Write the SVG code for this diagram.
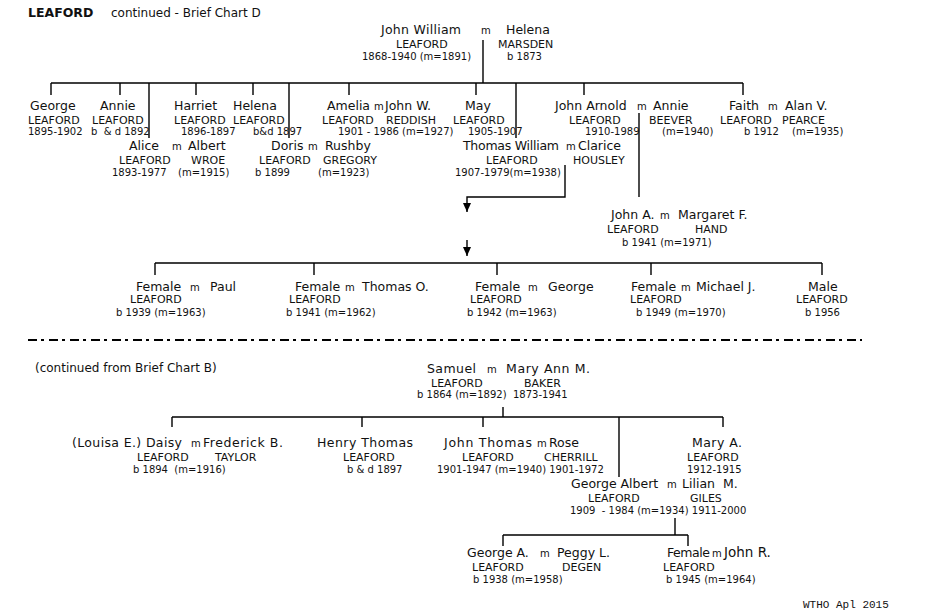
<svg xmlns="http://www.w3.org/2000/svg" width="929" height="611" viewBox="0 0 929 611">
<style>
text{font-family:"DejaVu Sans","Verdana",sans-serif;fill:#111}
.n{font-size:12.5px}
.s{font-size:11px}
.d{font-size:10px}
.m{font-size:10px}
.t{font-size:12.5px;font-weight:bold}
.w{font-family:"Liberation Mono","Courier New",monospace;font-size:11px}
.ln{stroke:#000;stroke-width:1.4;fill:none}
</style>
<defs>
<marker id="ad" viewBox="0 0 8 9" refX="4" refY="9" markerWidth="8" markerHeight="9" markerUnits="userSpaceOnUse" orient="0">
<path d="M0,0 L8,0 L4,9 Z" fill="#000"/>
</marker>
</defs>
<rect width="929" height="611" fill="#fff"/>
<g id="title">
<text class="t" x="28" y="17">LEAFORD</text>
<text class="n" x="111" y="17" style="font-size:12px">continued - Brief Chart D</text>
</g>
<g id="connectors">
<path class="ln" d="M483,40 V83 M51,83 H743 M51,83 V95 M120,83 V95 M149,83 V138 M196,83 V95 M253,83 V95 M289,83 V138 M349,83 V95 M476,83 V95 M516,83 V138 M584,83 V95 M743,83 V95"/>
<path class="ln" d="M639,113 V197"/>
<path class="ln" d="M565,165 V197 H467 V212" marker-end="url(#ad)"/>
<path class="ln" d="M467,240 V256" marker-end="url(#ad)"/>
<path class="ln" d="M155,263 H822 M155,263 V275 M314,263 V275 M497,263 V275 M651,263 V275 M822,263 V275"/>
<path d="M28,340 H862" stroke="#000" stroke-width="2" stroke-dasharray="9 4 3 5" fill="none"/>
<path class="ln" d="M503,407 V417 M172,417 H723 M172,417 V427 M362,417 V427 M483,417 V427 M619,417 V477 M723,417 V427"/>
<path class="ln" d="M675,518 V535 M503,535 H688 M503,535 V546 M688,535 V546"/>
</g>
<g id="john-william-helena">
<text class="n" x="381" y="34" textLength="80">John William</text><text class="m" x="481" y="34">m</text><text class="n" x="506" y="34">Helena</text>
<text class="s" x="396" y="48">LEAFORD</text><text class="s" x="498" y="48">MARSDEN</text>
<text class="d" x="362" y="60">1868-1940 (m=1891)</text><text class="d" x="507" y="60">b 1873</text>
</g>
<g id="george">
<text class="n" x="30" y="110">George</text><text class="s" x="28" y="124">LEAFORD</text><text class="d" x="28" y="135">1895-1902</text>
</g>
<g id="annie">
<text class="n" x="100" y="110">Annie</text><text class="s" x="92" y="124">LEAFORD</text><text class="d" x="91" y="135">b&#160; &amp; d 1892</text>
</g>
<g id="alice">
<text class="n" x="129" y="150">Alice</text><text class="m" x="172" y="150">m</text><text class="n" x="188" y="150">Albert</text>
<text class="s" x="119" y="164">LEAFORD</text><text class="s" x="191" y="164">WROE</text>
<text class="d" x="112" y="176">1893-1977</text><text class="d" x="178" y="176">(m=1915)</text>
</g>
<g id="harriet">
<text class="n" x="174" y="110">Harriet</text><text class="s" x="174" y="124">LEAFORD</text><text class="d" x="181" y="135">1896-1897</text>
</g>
<g id="helena">
<text class="n" x="233" y="110">Helena</text><text class="s" x="233" y="124">LEAFORD</text><text class="d" x="253" y="135">b&amp;d 1897</text>
</g>
<g id="doris">
<text class="n" x="271" y="150">Doris</text><text class="m" x="308" y="150">m</text><text class="n" x="325" y="150">Rushby</text>
<text class="s" x="259" y="164">LEAFORD</text><text class="s" x="323" y="164">GREGORY</text>
<text class="d" x="255" y="176">b 1899</text><text class="d" x="318" y="176">(m=1923)</text>
</g>
<g id="amelia">
<text class="n" x="327" y="110">Amelia</text><text class="m" x="374" y="110">m</text><text class="n" x="385" y="110">John W.</text>
<text class="s" x="322" y="124">LEAFORD</text><text class="s" x="386" y="124">REDDISH</text>
<text class="d" x="338" y="135">1901 - 1986 (m=1927)</text>
</g>
<g id="may">
<text class="n" x="465" y="110">May</text><text class="s" x="453" y="124">LEAFORD</text><text class="d" x="468" y="135">1905-1907</text>
</g>
<g id="thomas-william">
<text class="n" x="463" y="150" textLength="96">Thomas William</text><text class="m" x="566" y="150">m</text><text class="n" x="578" y="150">Clarice</text>
<text class="s" x="486" y="164">LEAFORD</text><text class="s" x="573" y="164">HOUSLEY</text>
<text class="d" x="455" y="176">1907-1979(m=1938)</text>
</g>
<g id="john-arnold">
<text class="n" x="555" y="110">John Arnold</text><text class="m" x="637" y="110">m</text><text class="n" x="653" y="110">Annie</text>
<text class="s" x="569" y="124">LEAFORD</text><text class="s" x="649" y="124">BEEVER</text>
<text class="d" x="585" y="135">1910-1989</text><text class="d" x="662" y="135">(m=1940)</text>
</g>
<g id="faith">
<text class="n" x="729" y="110">Faith</text><text class="m" x="768" y="110">m</text><text class="n" x="785" y="110">Alan V.</text>
<text class="s" x="720" y="124">LEAFORD</text><text class="s" x="782" y="124">PEARCE</text>
<text class="d" x="744" y="135">b 1912</text><text class="d" x="792" y="135">(m=1935)</text>
</g>
<g id="john-a">
<text class="n" x="611" y="219">John A.</text><text class="m" x="660" y="219">m</text><text class="n" x="678" y="219">Margaret F.</text>
<text class="s" x="607" y="233">LEAFORD</text><text class="s" x="695" y="233">HAND</text>
<text class="d" x="622" y="246">b 1941 (m=1971)</text>
</g>
<g id="female-1939">
<text class="n" x="136" y="291">Female</text><text class="m" x="190" y="291">m</text><text class="n" x="210" y="291">Paul</text>
<text class="s" x="130" y="303">LEAFORD</text><text class="d" x="116" y="316">b 1939 (m=1963)</text>
</g>
<g id="female-1941">
<text class="n" x="295" y="291">Female</text><text class="m" x="345" y="291">m</text><text class="n" x="362" y="291">Thomas O.</text>
<text class="s" x="289" y="303">LEAFORD</text><text class="d" x="286" y="316">b 1941 (m=1962)</text>
</g>
<g id="female-1942">
<text class="n" x="475" y="291">Female</text><text class="m" x="528" y="291">m</text><text class="n" x="548" y="291">George</text>
<text class="s" x="470" y="303">LEAFORD</text><text class="d" x="467" y="316">b 1942 (m=1963)</text>
</g>
<g id="female-1949">
<text class="n" x="631" y="291">Female</text><text class="m" x="681" y="291">m</text><text class="n" x="696" y="291">Michael J.</text>
<text class="s" x="630" y="303">LEAFORD</text><text class="d" x="636" y="316">b 1949 (m=1970)</text>
</g>
<g id="male-1956">
<text class="n" x="808" y="291">Male</text><text class="s" x="796" y="303">LEAFORD</text><text class="d" x="805" y="316">b 1956</text>
</g>
<g id="continued-b">
<text class="n" x="35" y="372" style="font-size:12px">(continued from Brief Chart B)</text>
</g>
<g id="samuel">
<text class="n" x="427" y="373" textLength="49">Samuel</text><text class="m" x="487" y="373">m</text><text class="n" x="506" y="373" textLength="84">Mary Ann M.</text>
<text class="s" x="431" y="387">LEAFORD</text><text class="s" x="524" y="387">BAKER</text>
<text class="d" x="417" y="398">b 1864 (m=1892)</text><text class="d" x="513" y="398">1873-1941</text>
</g>
<g id="daisy">
<text class="n" x="72" y="447" textLength="110">(Louisa E.) Daisy</text><text class="m" x="191" y="447">m</text><text class="n" x="203" y="447" textLength="80">Frederick B.</text>
<text class="s" x="137" y="461">LEAFORD</text><text class="s" x="215" y="461">TAYLOR</text>
<text class="d" x="133" y="473">b 1894&#160; (m=1916)</text>
</g>
<g id="henry-thomas">
<text class="n" x="317" y="447" textLength="96">Henry Thomas</text><text class="s" x="343" y="461">LEAFORD</text><text class="d" x="347" y="473">b &amp; d 1897</text>
</g>
<g id="john-thomas">
<text class="n" x="444" y="447" textLength="88">John Thomas</text><text class="m" x="537" y="447">m</text><text class="n" x="549" y="447">Rose</text>
<text class="s" x="462" y="461">LEAFORD</text><text class="s" x="544" y="461">CHERRILL</text>
<text class="d" x="437" y="473">1901-1947 (m=1940) 1901-1972</text>
</g>
<g id="mary-a">
<text class="n" x="692" y="447" textLength="50">Mary A.</text><text class="s" x="687" y="461">LEAFORD</text><text class="d" x="687" y="473">1912-1915</text>
</g>
<g id="george-albert">
<text class="n" x="571" y="488">George Albert</text><text class="m" x="667" y="488">m</text><text class="n" x="682" y="488">Lilian&#160; M.</text>
<text class="s" x="588" y="502">LEAFORD</text><text class="s" x="690" y="502">GILES</text>
<text class="d" x="570" y="514">1909&#160; - 1984 (m=1934) 1911-2000</text>
</g>
<g id="george-a">
<text class="n" x="467" y="557">George A.</text><text class="m" x="540" y="557">m</text><text class="n" x="557" y="557">Peggy L.</text>
<text class="s" x="472" y="571">LEAFORD</text><text class="d" x="473" y="583">b 1938 (m=1958)</text><text class="s" x="562" y="571">DEGEN</text>
</g>
<g id="female-1945">
<text class="n" x="667" y="557" textLength="43">Female</text><text class="m" x="712" y="557">m</text><text class="n" x="724" y="557" style="font-size:13.5px">John R.</text>
<text class="s" x="663" y="571">LEAFORD</text><text class="d" x="666" y="583">b 1945 (m=1964)</text>
</g>
<g id="footer">
<text class="w" x="803" y="608">WTHO Apl 2015</text>
</g>
</svg>
